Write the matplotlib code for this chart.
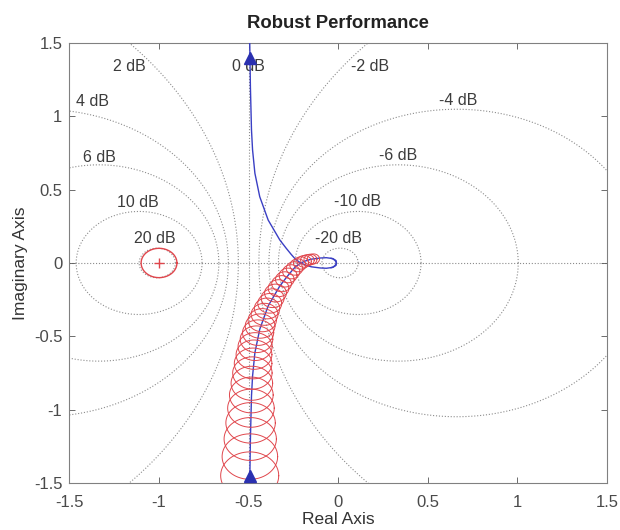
import numpy as np
import matplotlib
matplotlib.use("Agg")
import matplotlib.pyplot as plt
from matplotlib.ticker import FuncFormatter

plt.rcParams['font.family'] = ['Liberation Sans', 'DejaVu Sans']

# ---- data ----
grid_db = [20, 10, 6, 4, 2, -2, -4, -6, -10, -20]
label_text = ["20 dB", "10 dB", "6 dB", "4 dB", "2 dB", "0 dB",
              "-2 dB", "-4 dB", "-6 dB", "-10 dB", "-20 dB"]
label_x = [-1.023, -1.118, -1.330, -1.369, -1.168, -0.499,
           0.176, 0.672, 0.332, 0.109, 0.003]
label_y = [0.167, 0.409, 0.716, 1.101, 1.343, 1.343,
           1.343, 1.105, 0.736, 0.420, 0.167]

# Nyquist curve, positive-imaginary branch
nyq_x = [-0.495, -0.490, -0.484, -0.478, -0.465, -0.438, -0.391, -0.326,
         -0.290, -0.262, -0.238, -0.212, -0.185, -0.150, -0.100, -0.066,
         -0.030, -0.012, -0.010, -0.018, -0.030, -0.040]
nyq_y = [1.60, 1.20, 0.907, 0.771, 0.612, 0.452, 0.293, 0.157,
         0.100, 0.058, 0.025, 0.002, -0.013, -0.026, -0.034, -0.036,
         -0.030, -0.016, 0.002, 0.018, 0.028, 0.032]

# robust-performance circles along the L(jw) branch
rp_cx = [-0.494, -0.493, -0.491, -0.489, -0.487, -0.485, -0.482, -0.479,
         -0.475, -0.470, -0.464, -0.456, -0.447, -0.436, -0.424, -0.411,
         -0.397, -0.382, -0.366, -0.350, -0.333, -0.316, -0.298, -0.280,
         -0.262, -0.244, -0.226, -0.208, -0.190, -0.172, -0.155, -0.138]
rp_cy = [-1.45, -1.32, -1.20, -1.09, -0.99, -0.90, -0.82, -0.75,
         -0.685, -0.625, -0.57, -0.52, -0.475, -0.43, -0.39, -0.35,
         -0.31, -0.275, -0.24, -0.205, -0.172, -0.141, -0.112, -0.085,
         -0.060, -0.037, -0.016, 0.000, 0.011, 0.019, 0.024, 0.028]
rp_r = [0.162, 0.155, 0.146, 0.138, 0.130, 0.122, 0.116, 0.110,
        0.105, 0.100, 0.095, 0.091, 0.087, 0.083, 0.079, 0.075,
        0.071, 0.067, 0.064, 0.061, 0.058, 0.055, 0.052, 0.050,
        0.048, 0.046, 0.044, 0.042, 0.040, 0.038, 0.036, 0.034]

crit_x, crit_y, crit_r = -1.0, 0.0, 0.10

# ---- figure ----
fig = plt.figure(figsize=(6.2, 5.3), dpi=100)
ax = fig.add_axes([0.112, 0.0887, 0.867, 0.8302])

grid_col = '#8c8c8c'
t = np.linspace(0, 2 * np.pi, 721)
for db in grid_db:
    M = 10 ** (db / 20.0)
    c = -M ** 2 / (M ** 2 - 1)
    r = abs(M / (M ** 2 - 1))
    ax.plot(c + r * np.cos(t), r * np.sin(t), linestyle=':', color=grid_col,
            linewidth=0.8, zorder=1)
ax.axvline(-0.5, linestyle=':', color=grid_col, linewidth=0.8, zorder=1)
ax.axhline(0.0, linestyle=':', color=grid_col, linewidth=0.8, zorder=1)

for s, x, y in zip(label_text, label_x, label_y):
    ax.text(x, y, s, ha='center', va='center', fontsize=11.5, color='#3c3c3c',
            zorder=2)

blue = '#3a3fc4'
nx = np.array(nyq_x)
ny = np.array(nyq_y)
ax.plot(nx, ny, color=blue, linewidth=1.0, zorder=3)
ax.plot(nx, -ny, color=blue, linewidth=1.0, zorder=3)
ax.plot([nyq_x[0]], [1.40], marker='^', color='#2a30b0', markersize=8, zorder=5)
ax.plot([rp_cx[0]], [-1.45], marker='^', color='#2a30b0', markersize=8, zorder=5)

red = '#e0464c'
for cx, cy, r in zip(rp_cx, rp_cy, rp_r):
    ax.plot(cx + r * np.cos(t), cy + r * np.sin(t), color=red, linewidth=0.7,
            zorder=4)
ax.plot(crit_x + crit_r * np.cos(t), crit_y + crit_r * np.sin(t), color=red,
        linewidth=1.0, zorder=4)
ax.plot([crit_x], [crit_y], marker='+', color=red, markersize=7, zorder=4)

ax.set_xlim(-1.5, 1.5)
ax.set_ylim(-1.5, 1.5)
ticks = [-1.5, -1, -0.5, 0, 0.5, 1, 1.5]
ax.set_xticks(ticks)
ax.set_yticks(ticks)
fmt = FuncFormatter(lambda v, p: ('%g' % v))
ax.xaxis.set_major_formatter(fmt)
ax.yaxis.set_major_formatter(fmt)
ax.tick_params(direction='in', top=True, right=True, length=4, width=0.6,
               colors='#555555', labelsize=12, labelcolor='#4a4a4a')
ax.tick_params(axis='x', pad=9)
ax.tick_params(axis='y', pad=5)
for sp in ax.spines.values():
    sp.set_color('#808080')
    sp.set_linewidth(0.8)

ax.set_title('Robust Performance', fontsize=13.3, fontweight='bold',
             color='#222222', pad=11)
ax.set_xlabel('Real Axis', fontsize=12.5, color='#333333', labelpad=1)
ax.set_ylabel('Imaginary Axis', fontsize=12.5, color='#333333', labelpad=4)

fig.savefig('out.png', dpi=100)
